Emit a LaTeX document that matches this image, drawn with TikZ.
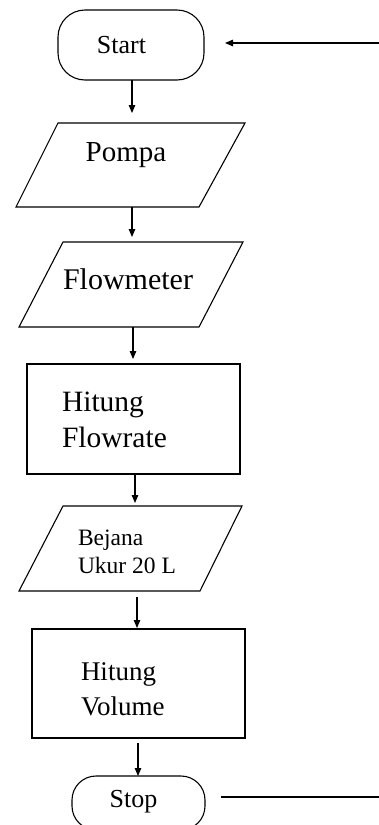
\documentclass[tikz,border=0pt]{standalone}
\usepackage{fontspec}
\setmainfont{Liberation Serif}
\usetikzlibrary{arrows.meta}
\begin{document}
\begin{tikzpicture}[x=1pt,y=-1pt,
  line width=1.1pt,
  arr/.style={-{Triangle[length=8pt,width=6.5pt]}},
  frame/.style={draw=none,inner sep=0pt,outer sep=0pt},
  term/.style={draw,inner sep=0pt,outer sep=0pt},
  procbox/.style={draw,inner sep=0pt,outer sep=0pt},
  lbl/.style={inner sep=0pt,outer sep=0pt}]
\useasboundingbox (0,0) rectangle (379,825);

% Start
\node[term,rounded corners=27pt,minimum width=146pt,minimum height=70pt] (start) at (131,45) {};
\node[lbl,font=\fontsize{26}{30}\selectfont] (tstart) at (121.5,45) {Start};
\coordinate (inR) at (379,43);
\draw[arr,shorten >=21pt] (inR) -- (inR -| start.east);

% Pompa
\node[frame,minimum width=229pt,minimum height=84pt] (pompa) at (130.5,165) {};
\draw ([xshift=42pt]pompa.north west) -- (pompa.north east)
  -- ([xshift=-46pt]pompa.south east) -- (pompa.south west) -- cycle;
\node[lbl,font=\fontsize{29}{33}\selectfont] (tpompa) at (126,155) {Pompa};

% Flowmeter
\node[frame,minimum width=224pt,minimum height=85pt] (flow) at (131,284.5) {};
\draw ([xshift=44pt]flow.north west) -- (flow.north east)
  -- ([xshift=-44pt]flow.south east) -- (flow.south west) -- cycle;
\node[lbl,font=\fontsize{30}{34}\selectfont] (tflow) at (128,279) {Flowmeter};

% Hitung Flowrate
\node[procbox,minimum width=213pt,minimum height=110pt] (hf) at (133.5,419) {};
\node[lbl,anchor=west,align=left,font=\fontsize{29.5}{36}\selectfont] (thf) at (62,420) {Hitung\\Flowrate};

% Bejana
\node[frame,minimum width=223pt,minimum height=85pt] (bej) at (130.5,548.5) {};
\draw ([xshift=44pt]bej.north west) -- (bej.north east)
  -- ([xshift=-42pt]bej.south east) -- (bej.south west) -- cycle;
\node[lbl,anchor=west,align=left,font=\fontsize{23.5}{28}\selectfont] (tbej) at (78,552) {Bejana\\Ukur 20 L};

% Hitung Volume
\node[procbox,minimum width=213pt,minimum height=109pt] (hv) at (138.5,683.5) {};
\node[lbl,anchor=west,align=left,font=\fontsize{27}{35}\selectfont] (thv) at (81,689) {Hitung\\Volume};

% Stop
\node[term,rounded corners=24pt,minimum width=133pt,minimum height=54pt] (stop) at (138.5,803) {};
\node[lbl,font=\fontsize{26}{30}\selectfont] (tstop) at (133.5,802) {Stop};
\coordinate (outR) at (379,797);
\draw[shorten <=16pt] (outR -| stop.east) -- (outR);

% connectors
\draw[arr,shorten >=10pt] (start.south -| 132,0) -- (pompa.north -| 132,0);
\draw[arr,shorten >=5pt] (pompa.south -| 132,0) -- (flow.north -| 132,0);
\draw[arr,shorten >=5pt] (flow.south -| 133,0) -- (hf.north -| 133,0);
\draw[arr,shorten >=3pt] (hf.south -| 135,0) -- (bej.north -| 135,0);
\draw[arr,shorten <=6pt,shorten >=1pt] (bej.south -| 137,0) -- (hv.north -| 137,0);
\draw[arr,shorten <=5pt] (hv.south -| 138,0) -- (stop.north -| 138,0);
\end{tikzpicture}
\end{document}
